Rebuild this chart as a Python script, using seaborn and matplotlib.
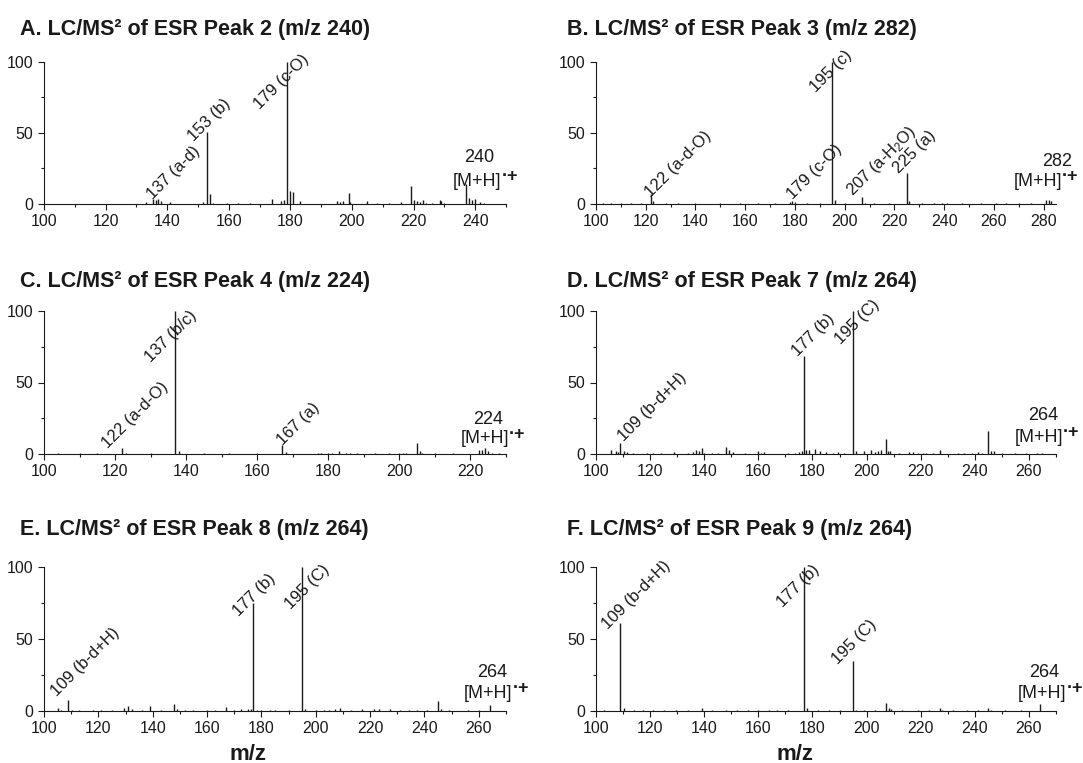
import numpy as np
import pandas as pd
import seaborn as sns
import matplotlib.pyplot as plt
from matplotlib.ticker import MultipleLocator

# ------------------------------
# Peak lists (m/z, relative abundance)
# ------------------------------

a_mz = [133, 135.5, 136.5, 137, 138, 141, 151.5, 153, 154, 155, 159.5, 163, 167,
        174, 177, 178, 179, 180, 181, 183, 195, 196, 197, 199, 199.5, 205, 208, 212, 216,
        219, 220, 221, 222, 223, 224, 226, 228.5, 229, 230, 237, 238, 239, 240, 241.5, 243]
a_int = [1.5, 3.5, 3, 3.5, 2, 1.5, 1.5, 51, 7, 1, 1, 1, 0.5,
         3.5, 2, 2.5, 100, 9.5, 8.5, 2, 2, 1.5, 2, 8, 1.5, 2, 1, 0.5, 1.5,
         13, 3, 2, 1.5, 3, 1, 0.8, 2.5, 2, 1, 14, 4, 3, 3.5, 1.5, 0.8]

b_mz = [103, 106, 110, 114, 118, 122, 123, 128, 133, 140, 150, 158, 165, 172, 178,
        179, 180, 185, 190, 195, 196, 200, 207, 208, 212, 218, 225, 226, 231, 236,
        239, 241, 247, 255, 261, 265, 270, 275, 281, 282, 283]
b_int = [0.5, 0.5, 0.5, 0.5, 0.5, 7, 2, 0.5, 0.5, 0.5, 0.5, 0.5, 0.5, 0.5, 1.5,
         2, 1.5, 0.5, 0.5, 100, 2.5, 0.5, 5, 1, 0.5, 0.5, 21.5, 2, 0.5, 1,
         1, 1, 0.5, 0.5, 1, 1, 0.5, 0.5, 3, 3, 2]

c_mz = [104, 110, 115, 122, 123, 130, 137, 138, 145, 152, 160, 167, 168, 177, 178,
        180, 181, 183, 185, 186, 188, 193, 197, 200, 201, 202, 205, 205.7, 206.5, 210,
        215, 222.5, 223.2, 224, 224.8, 226, 228]
c_int = [0.5, 0.5, 0.5, 4, 1, 0.5, 100, 2, 0.5, 0.5, 0.5, 6.5, 1.5, 1, 1,
         1, 1, 2, 1, 1, 1, 0.5, 0.5, 1, 1, 1, 8, 2, 1, 0.5,
         0.5, 3, 3, 4.5, 2, 0.8, 0.8]

d_mz = [105.5, 107.3, 108.3, 109, 110.2, 111.4, 113.7, 119, 121, 124, 129, 134, 136, 137, 138,
        139, 140, 143, 145, 148, 149, 150.7, 155, 160, 161, 162, 171, 173.6, 175, 176.2,
        177, 177.7, 178.7, 181, 182.8, 185, 187.7, 189.6, 191.5, 195, 196, 199.2, 201.7, 203, 204.3,
        205.5, 207, 207.8, 208.7, 212, 215.8, 217, 219, 221, 222, 224.7, 227, 233.6, 236, 239,
        241.3, 242.6, 245, 245.8, 247, 250, 255, 259, 263, 265]
d_int = [3, 2, 1.5, 7.5, 2, 1.5, 1, 1, 1, 0.5, 1.5, 1, 1.5, 2.5, 2,
         4.5, 1, 1, 1, 5, 3, 1.5, 1, 2, 1, 1.5, 1, 1, 1.5, 2,
         68.5, 3, 3, 3.5, 2, 1.5, 1, 1.5, 1, 100, 2, 2, 3, 1.5, 2,
         2.5, 10.5, 2, 2, 0.5, 1.5, 1.5, 1, 1, 1, 1, 2.5, 1, 1, 1,
         1.5, 1, 16.3, 2, 2, 0.5, 0.5, 1, 1, 1]

e_mz = [105, 106.4, 109, 110.2, 113, 118, 121, 125, 129.3, 131, 132.4, 136, 139, 143, 148,
        149, 152, 155, 160, 163, 166.8, 170, 172.5, 175, 176, 177, 178.2, 180, 183, 185,
        190, 195, 196, 200, 203, 205, 207, 209, 213, 217, 221.3, 223.3, 227.2, 231, 234.2,
        237.4, 241, 245, 246, 249, 256, 260, 264]
e_int = [2, 1, 7.5, 1, 0.5, 0.5, 0.5, 0.5, 2, 3.5, 1.5, 0.5, 3.5, 0.5, 5,
         1.5, 0.5, 1, 1, 1, 2.5, 0.5, 1.5, 1.5, 1.5, 75, 1, 1, 1, 1,
         0.5, 100, 1.5, 1, 1, 1, 1.5, 2, 0.5, 1.5, 1.5, 1.5, 1.5, 0.5, 1,
         1, 0.5, 7, 1.5, 0.5, 0.5, 0.5, 4.2]

f_mz = [103, 109, 110.2, 114, 117.5, 121, 125, 129.6, 134, 139.2, 143, 148, 152, 156, 160,
        164, 167, 171, 177, 178, 182, 186, 190, 195, 196, 199, 203, 207, 208.1, 209,
        213, 219, 223, 227, 227.9, 232, 237, 241, 245, 246, 251, 257, 264]
f_int = [0.5, 61, 2, 0.5, 0.5, 0.5, 0.5, 1, 1, 2, 0.5, 1, 0.5, 0.5, 1,
         0.5, 1, 0.5, 100, 2, 0.5, 0.5, 0.5, 35, 1, 1, 0.5, 5.3, 2, 1.5,
         0.5, 0.5, 0.5, 2, 1, 0.5, 0.5, 0.5, 2, 1, 0.5, 0.5, 4.7]

# fragment labels: (text, m/z, abundance) at the start of the rotated text
a_labels = [("137 (a-d)", 135.3, 3.0), ("153 (b)", 148.8, 44), ("179 (c-O)", 170.2, 66)]
b_labels = [("122 (a-d-O)", 122.2, 4.0), ("179 (c-O)", 179.2, 3.0), ("195 (c)", 188.3, 78),
            ("207 (a-H$_2$O)", 203.0, 5.5), ("225 (a)", 221.8, 21)]
c_labels = [("122 (a-d-O)", 118.0, 3.5), ("137 (b/c)", 130.0, 64), ("167 (a)", 167.1, 5.5)]
d_labels = [("109 (b-d+H)", 110.2, 8.5), ("177 (b)", 174.6, 68), ("195 (C)", 190.6, 76)]
e_labels = [("109 (b-d+H)", 104.8, 10), ("177 (b)", 171.6, 65.5), ("195 (C)", 190.7, 70.5)]
f_labels = [("109 (b-d+H)", 104.4, 56.5), ("177 (b)", 168.9, 71.5), ("195 (C)", 189.3, 32)]

# precursor ion label: (m/z text, x, y of number, x, y of [M+H])
a_prec = ("240", 241.2, 33, 240.7, 15.8)
b_prec = ("282", 285.5, 30, 277.6, 16)
c_prec = ("224", 225, 24.4, 224, 10.5)
d_prec = ("264", 265.3, 26.7, 263.6, 11.6)
e_prec = ("264", 264.8, 26.7, 263.5, 12)
f_prec = ("264", 265.5, 26.7, 264.9, 12)

titles = ["A. LC/MS² of ESR Peak 2 (m/z 240)", "B. LC/MS² of ESR Peak 3 (m/z 282)",
          "C. LC/MS² of ESR Peak 4 (m/z 224)", "D. LC/MS² of ESR Peak 7 (m/z 264)",
          "E. LC/MS² of ESR Peak 8 (m/z 264)", "F. LC/MS² of ESR Peak 9 (m/z 264)"]
xmax = [250, 285, 230, 270, 270, 270]

panels = [
    (a_mz, a_int, a_labels, a_prec),
    (b_mz, b_int, b_labels, b_prec),
    (c_mz, c_int, c_labels, c_prec),
    (d_mz, d_int, d_labels, d_prec),
    (e_mz, e_int, e_labels, e_prec),
    (f_mz, f_int, f_labels, f_prec),
]

# ------------------------------
# Figure
# ------------------------------

sns.set_theme(style="ticks")
plt.rcParams["font.family"] = ["Liberation Sans", "DejaVu Sans"]
plt.rcParams["mathtext.default"] = "regular"

W, H = 1083, 763
fig = plt.figure(figsize=(W / 100, H / 100), dpi=100)

ink = "#1a1a1a"
col_x = [(44, 462), (596, 460)]
row_y = [(62, 204), (311, 454), (567, 711)]
title_x = [20.5, 567]
title_base = [34.5, 287, 534.5]

for i, (mz, inten, labels, prec) in enumerate(panels):
    r, c = divmod(i, 2)
    x0, w = col_x[c]
    top, bot = row_y[r]
    ax = fig.add_axes([x0 / W, 1 - bot / H, w / W, (bot - top) / H])

    df = pd.DataFrame({"mz": mz, "abundance": inten})
    ax.vlines(df["mz"], 0, df["abundance"], color=ink, lw=1.0)

    ax.set_xlim(100, xmax[i])
    ax.set_ylim(0, 100)
    ax.set_xticks(np.arange(100, xmax[i] + 1, 20))
    ax.set_yticks([0, 50, 100])
    ax.xaxis.set_minor_locator(MultipleLocator(10))
    ax.yaxis.set_minor_locator(MultipleLocator(25))
    ax.tick_params(which="major", direction="out", length=4, width=0.8,
                   labelsize=11.5, colors=ink, pad=3)
    ax.tick_params(axis="y", which="major", pad=4)
    ax.tick_params(which="minor", direction="out", length=2.5, width=0.8, colors=ink)
    sns.despine(ax=ax)
    for s in ["left", "bottom"]:
        ax.spines[s].set_linewidth(0.8)
        ax.spines[s].set_color(ink)
    ax.set_xlabel("")
    ax.set_ylabel("")

    for txt, lx, ly in labels:
        ax.text(lx, ly, txt, rotation=45, rotation_mode="anchor", ha="left",
                va="baseline", fontsize=12, color=ink, clip_on=False)

    num, nx, ny, mx, my = prec
    ax.text(nx, ny, num, ha="center", va="center", fontsize=13, color=ink, clip_on=False)
    mh = ax.text(mx, my, "[M+H]", ha="center", va="center", fontsize=13, color=ink,
                 clip_on=False)
    ax.annotate("·+", xy=(1.0, 0.78), xycoords=mh, xytext=(0, 0),
                textcoords="offset points", ha="left", va="center", fontsize=13,
                fontweight="bold", color=ink, annotation_clip=False)

    fig.text(title_x[c] / W, 1 - title_base[r] / H, titles[i], ha="left", va="baseline",
             fontsize=15.5, fontweight="bold", color=ink)

fig.text(248 / W, 1 - 754 / H, "m/z", ha="center", va="center", fontsize=16,
         fontweight="bold", color=ink)
fig.text(795 / W, 1 - 754 / H, "m/z", ha="center", va="center", fontsize=16,
         fontweight="bold", color=ink)

fig.savefig("out.png", dpi=100)
